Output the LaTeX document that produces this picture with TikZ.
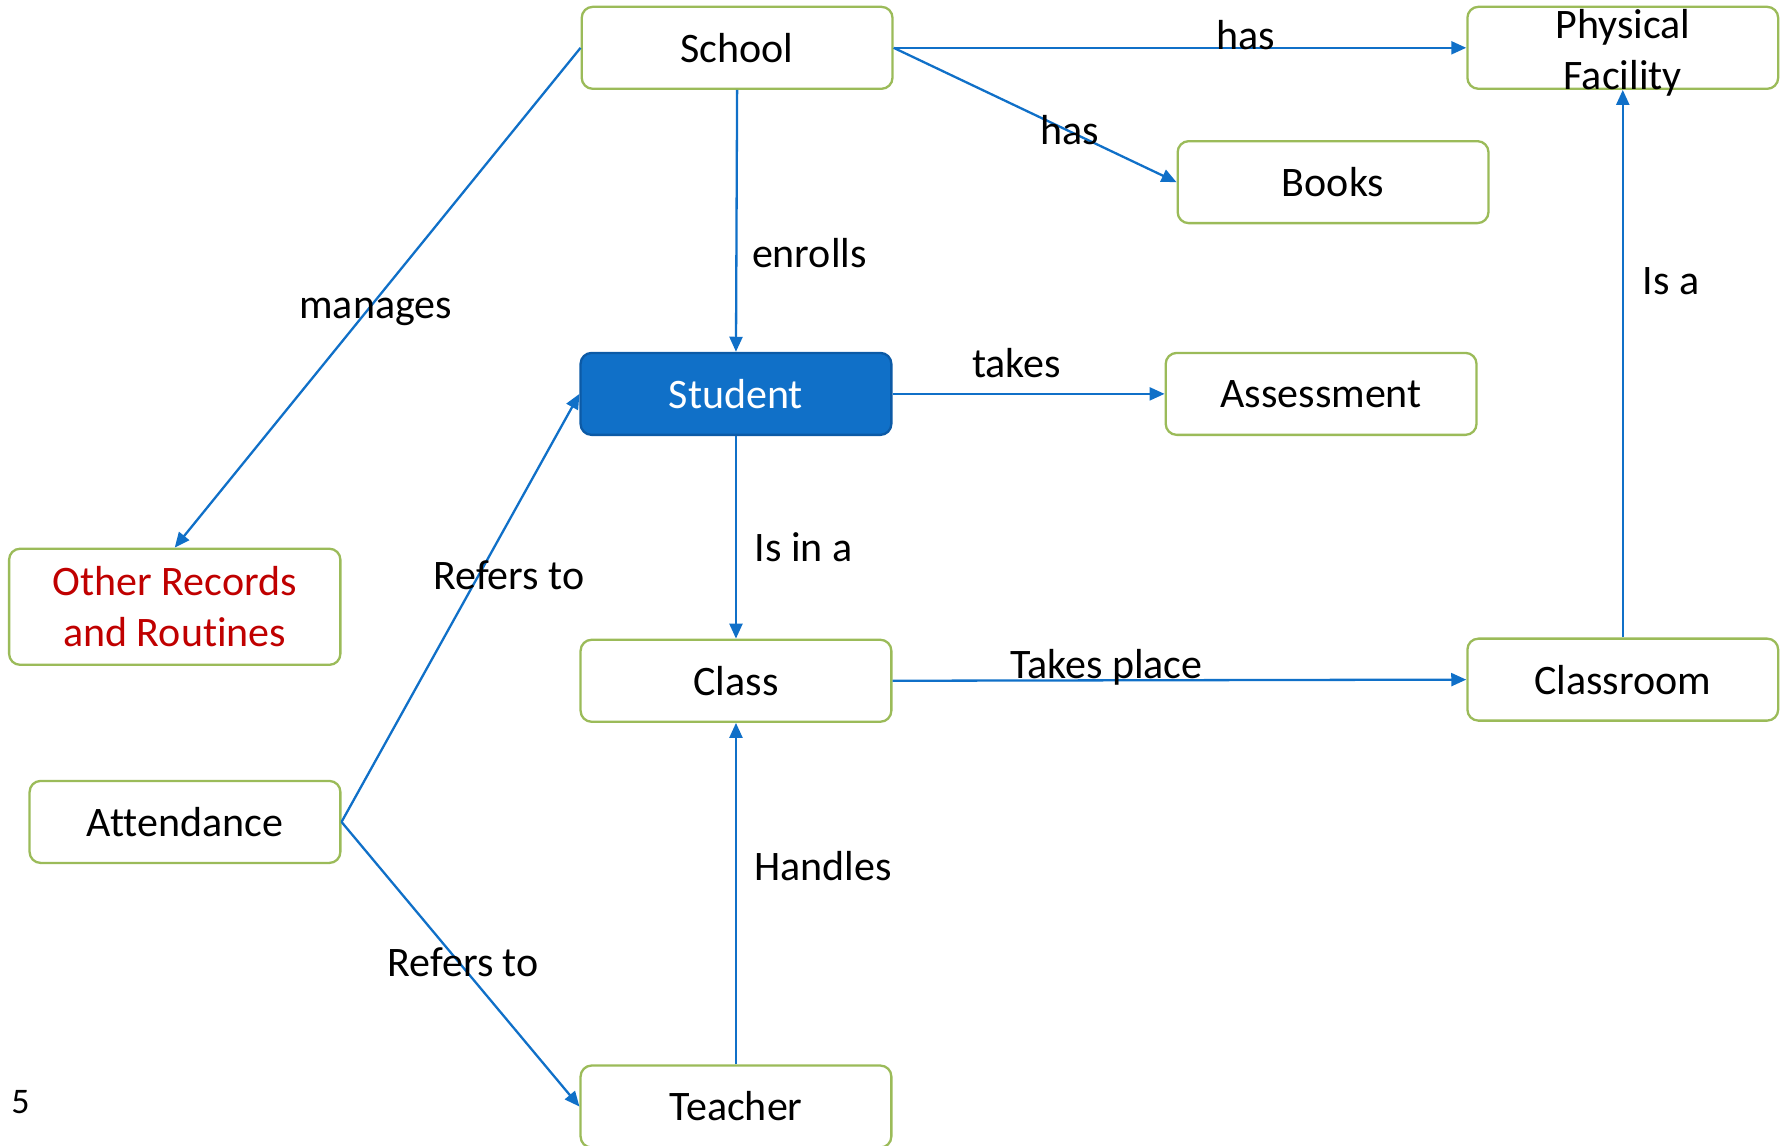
\documentclass[tikz,border=0pt]{standalone}
\usepackage{fontspec}
\setmainfont{Carlito}[Ligatures=NoCommon]
\usetikzlibrary{arrows.meta}
\definecolor{boxgreen}{HTML}{9BBB59}
\definecolor{linkblue}{HTML}{1070C8}
\definecolor{studborder}{HTML}{0C5AA6}
\definecolor{redtext}{HTML}{C00000}
\begin{document}
\begin{tikzpicture}[x=1.1384pt,y=-1.1384pt,
  concept/.style={draw=boxgreen,line width=2.3pt,rounded corners=11pt,fill=white,
    minimum width={273*1.1384pt},minimum height={72*1.1384pt},inner sep=0pt,
    align=center,font=\fontsize{42}{51}\selectfont},
  focus/.style={concept,draw=studborder,fill=linkblue,text=white},
  link/.style={draw=linkblue,line width=2.3pt,-{Triangle[length=15pt,width=13pt]}},
  lbl/.style={font=\fontsize{42}{51}\selectfont,inner sep=0pt}]
\useasboundingbox (0,0) rectangle (1568,1006);
\node[concept] (school) at (647.5,42) {School};
\node[concept] (phys) at (1425.5,42) {};
\node[lbl,align=center] (physlbl) at (1425.5,46) {Physical\\Facility};
\node[concept] (books) at (1171,160) {Books};
\node[focus] (student) at (646.5,346) {Student};
\node[concept] (assess) at (1160.5,346) {Assessment};
\node[concept,minimum width={291*1.1384pt},minimum height={102*1.1384pt},text=redtext] (other) at (153.5,533) {Other Records\\and Routines};
\node[concept] (class) at (646.5,598) {Class};
\node[concept] (classroom) at (1425.5,597) {Classroom};
\node[concept] (attend) at (162.5,722) {Attendance};
\node[concept] (teacher) at (646.5,972) {Teacher};
\node[lbl,font=\fontsize{36}{43}\selectfont] (pagenum) at (18,968) {5};

\draw[link] (school.east) -- (phys.west);
\draw[link] (school.east) -- (books.west);
\draw[link] (school.south) -- (student.north);
\draw[link] (school.west) -- (other.north);
\draw[link] (student.east) -- (assess.west);
\draw[link] (student.south) -- (class.north);
\draw[link] (class.east) -- (classroom.west);
\draw[link] (classroom.north) -- (phys.south);
\draw[link] (attend.east) -- (student.west);
\draw[link] (attend.east) -- (teacher.west);
\draw[link] (teacher.north) -- (class.south);

\node[lbl] (l1) at (1094,31) {has};
\node[lbl] (l2) at (940,114) {has};
\node[lbl] (l3) at (711,222) {enrolls};
\node[lbl] (l4) at (330,274) {manages};
\node[lbl] (l5) at (893,319) {takes};
\node[lbl] (l6) at (706,481) {Is in a};
\node[lbl] (l7) at (972,586) {Takes place};
\node[lbl] (l8) at (1468,247) {Is a};
\node[lbl] (l9) at (447,505) {Refers to};
\node[lbl] (l10) at (407,845) {Refers to};
\node[lbl] (l11) at (723,761) {Handles};
\end{tikzpicture}
\end{document}
